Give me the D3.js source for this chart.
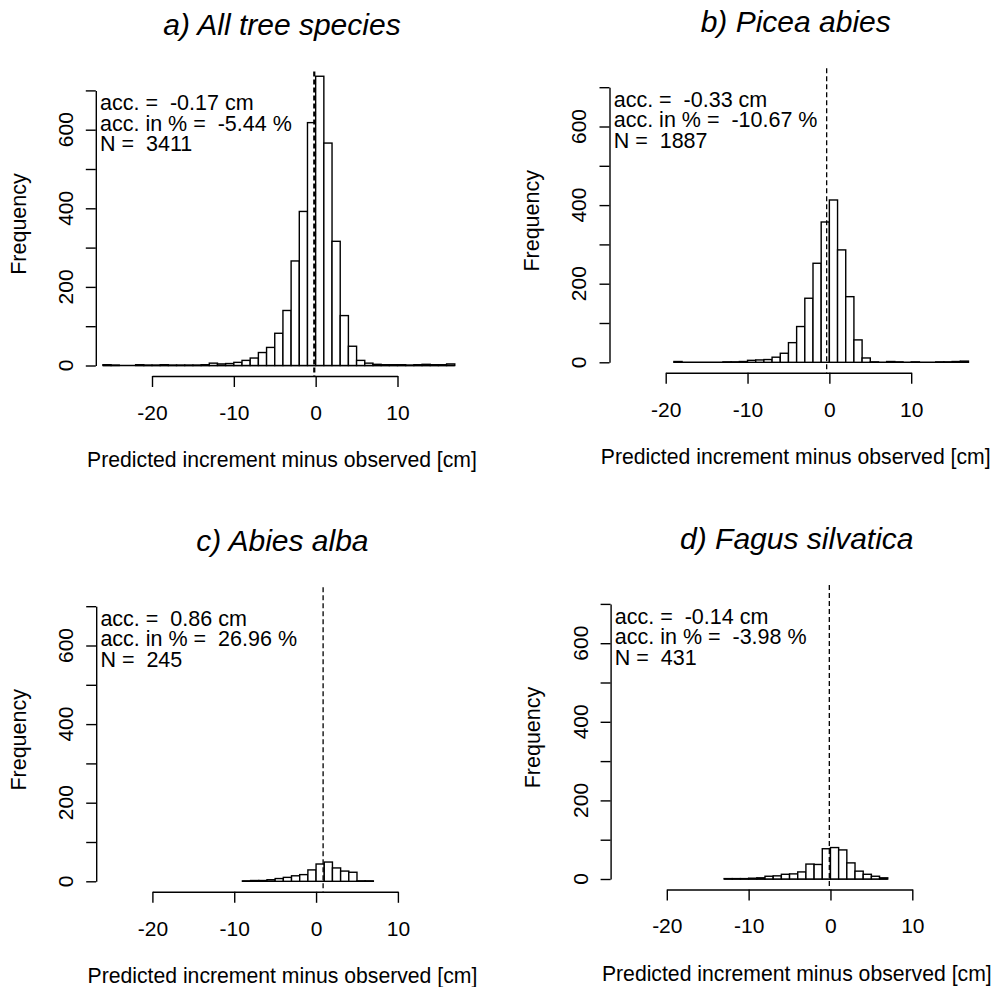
<!DOCTYPE html>
<html>
<head>
<meta charset="utf-8">
<script src="https://cdn.jsdelivr.net/npm/d3@7"></script>
<style>
  body { margin: 0; background: #fff; }
  text { font-family: "Liberation Sans", Arial, Helvetica, sans-serif; fill: #000; }
</style>
</head>
<body>
<div id="chart"></div>
<script>
// panel data
const panelTitles = ['a) All tree species', 'b) Picea abies', 'c) Abies alba', 'd) Fagus silvatica'];
const firstBreak = [-26, -19, -9, -13]; // left edge of the first 1 cm bin
const countsA = [2, 1, 0, 0, 2, 1, 1, 2, 1, 1, 1, 1, 2, 6, 4, 5, 8, 13, 19, 33, 46, 82, 140, 266, 392, 618,
                 736, 566, 316, 127, 49, 13, 6, 3, 2, 2, 2, 1, 2, 3, 2, 2, 4];
const countsB = [2, 0, 0, 0, 0, 0, 1, 1, 2, 5, 6, 7, 13, 23, 50, 91, 163, 252, 357,
                 413, 286, 167, 57, 11, 1, 0, 2, 1, 0, 1, 0, 0, 1, 1, 2, 3];
const countsC = [1, 2, 2, 4, 7, 10, 14, 17, 29, 44, 49, 34, 26, 23, 1, 1];
const countsD = [1, 1, 1, 2, 3, 7, 8, 12, 13, 18, 38, 37, 77, 80, 74, 41, 20, 12, 7, 3];
const accCm = [-0.17, -0.33, 0.86, -0.14];
const accPct = [-5.44, -10.67, 26.96, -3.98];
const sampleN = [3411, 1887, 245, 431];
const xTicks = [-20, -10, 0, 10];
const yTicks = [0, 100, 200, 300, 400, 500, 600, 700];
const yLabels = [0, 200, 400, 600];
const xTitle = 'Predicted increment minus observed [cm]';
const yTitle = 'Frequency';

const allCounts = [countsA, countsB, countsC, countsD];

// where each panel sits on the page
const offsets = [[0, 0], [513.7, -3.2], [0.4, 515.8], [514.8, 513.5]];

const width = 997, height = 987;
const svg = d3.select('#chart').append('svg')
  .attr('width', width)
  .attr('height', height);

const x = d3.scaleLinear().domain([-20, 10]).range([152, 397.5]);
const y = d3.scaleLinear().domain([0, 700]).range([365.5, 90.4]);
const axisY = y(0) + 10.5;  // x axis sits a bit under the zero line
const yAxisX = 95.8;

panelTitles.forEach((title, p) => {
  const g = svg.append('g')
    .attr('transform', `translate(${offsets[p][0]},${offsets[p][1]})`);
  const counts = allCounts[p];
  const start = firstBreak[p];

  // empty bins show as a flat line in R, so draw the base first
  g.append('line')
    .attr('x1', x(start)).attr('x2', x(start + counts.length))
    .attr('y1', y(0)).attr('y2', y(0))
    .attr('stroke', '#000')
    .attr('stroke-width', 1.6);

  // bars
  g.append('g')
    .selectAll('rect')
    .data(counts)
    .enter().append('rect')
    .attr('x', (d, i) => x(start + i))
    .attr('width', (d, i) => x(start + i + 1) - x(start + i))
    .attr('y', d => y(d))
    .attr('height', d => y(0) - y(d))
    .attr('fill', '#fff')
    .attr('stroke', '#000')
    .attr('stroke-width', 1.4);

  // mean deviation line
  g.append('line')
    .attr('x1', x(accCm[p])).attr('x2', x(accCm[p]))
    .attr('y1', y(748)).attr('y2', axisY)
    .attr('stroke', '#000')
    .attr('stroke-width', p === 0 ? 2.2 : 1.3)
    .attr('stroke-dasharray', '5,3');

  // y axis
  g.append('g')
    .attr('transform', `translate(${yAxisX},0)`)
    .call(d3.axisLeft(y).tickValues(yTicks).tickSize(10).tickSizeOuter(0).tickFormat(''))
    .call(a => a.selectAll('path, line').attr('stroke-width', 1.4));

  g.append('g')
    .selectAll('text')
    .data(yLabels)
    .enter().append('text')
    .attr('transform', d => `translate(72.7,${y(d)}) rotate(-90)`)
    .attr('text-anchor', 'middle')
    .style('font-size', '21px')
    .text(d => d);

  // x axis (plain hyphen minus like the original)
  g.append('g')
    .attr('transform', `translate(0,${axisY})`)
    .call(d3.axisBottom(x).tickValues(xTicks).tickSize(11).tickSizeOuter(0).tickPadding(18)
      .tickFormat(d => String(d)))
    .call(a => a.selectAll('path, line').attr('stroke-width', 1.4))
    .call(a => a.selectAll('text').style('font-size', '21px').attr('fill', '#000')
      .style('font-family', '"Liberation Sans", Arial, sans-serif'));

  // titles
  g.append('text')
    .attr('x', 282).attr('y', 35)
    .attr('text-anchor', 'middle')
    .style('font-size', '30px')
    .style('font-style', 'italic')
    .text(title);

  g.append('text')
    .attr('x', 282).attr('y', 467)
    .attr('text-anchor', 'middle')
    .style('font-size', '21.2px')
    .text(xTitle);

  g.append('text')
    .attr('transform', 'translate(25.5,224) rotate(-90)')
    .attr('text-anchor', 'middle')
    .style('font-size', '21.5px')
    .text(yTitle);

  // annotation
  const lines = [
    `acc. =  ${accCm[p].toFixed(2)} cm`,
    `acc. in % =  ${accPct[p].toFixed(2)} %`,
    `N =  ${sampleN[p]}`
  ];
  g.append('g')
    .selectAll('text')
    .data(lines)
    .enter().append('text')
    .attr('x', 100)
    .attr('y', (d, i) => 110 + i * 20.5)
    .style('font-size', '21.5px')
    .style('white-space', 'pre')
    .text(d => d);
});
</script>
</body>
</html>
